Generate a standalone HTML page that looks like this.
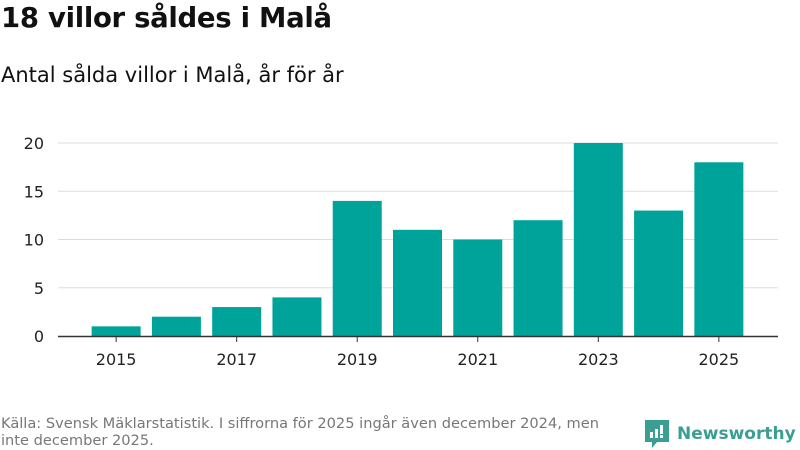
<!DOCTYPE html>
<html><head><meta charset="utf-8">
<style>
body{margin:0;width:800px;height:450px;background:#fff;font-family:"DejaVu Sans","Liberation Sans",sans-serif;overflow:hidden;position:relative;color:#111}
#title{position:absolute;left:1px;top:2px;font-size:27.5px;font-weight:bold;letter-spacing:-0.3px}
#subtitle{position:absolute;left:1px;top:63px;font-size:21px}
#source{position:absolute;left:1px;top:415px;font-size:14.6px;color:#777;line-height:17px;width:628px}
#logo{position:absolute;left:645px;top:420px;display:flex;align-items:center;color:#3a9e93;font-size:17px;font-weight:bold}
svg text{font-family:"DejaVu Sans","Liberation Sans",sans-serif}
</style></head><body>
<div id="title">18 villor såldes i Malå</div>
<div id="subtitle">Antal sålda villor i Malå, år för år</div>
<svg id="chart" width="800" height="450" style="position:absolute;left:0;top:0"></svg>
<div id="source">Källa: Svensk Mäklarstatistik. I siffrorna för 2025 ingår även december 2024, men inte december 2025.</div>
<div id="logo">
<svg width="24" height="28" viewBox="0 0 24 28"><path d="M0 0H24V22H12L7 28V22H0Z" fill="#3a9e93"/><rect x="5" y="12" width="3" height="6" fill="#fff"/><rect x="10" y="9" width="3" height="9" fill="#fff"/><rect x="15" y="5" width="3" height="9" fill="#fff"/><rect x="15" y="15" width="3" height="3" fill="#fff"/></svg>
<span style="margin-left:8px">Newsworthy</span></div>
<script>
const years=[2015,2016,2017,2018,2019,2020,2021,2022,2023,2024,2025];
const values=[1,2,3,4,14,11,10,12,20,13,18];
const yTicks=[0,5,10,15,20];
const xLabels=[2015,2017,2019,2021,2023,2025];
const svg=document.getElementById('chart');
const NS='http://www.w3.org/2000/svg';
const x0=58,x1=778,b0=86,b1=749,y0=336,yTop=143,yMax=20;
const step=(b1-b0)/years.length;
const bw=49;
function xs(i){return b0+step*(i+0.5);}
function ys(v){return y0-(y0-yTop)*v/yMax;}
function mk(t,a){const e=document.createElementNS(NS,t);for(const k in a)e.setAttribute(k,a[k]);svg.appendChild(e);return e;}
yTicks.forEach(v=>{
  if(v>0){const l=mk('line',{x1:x0,x2:x1,y1:ys(v),y2:ys(v),stroke:'#ddd','stroke-width':1});
  
  }
  const t=mk('text',{x:44,y:ys(v)+6,'text-anchor':'end','font-size':16,fill:'#222'});
  t.textContent=v;
  
  
});
years.forEach((yr,i)=>{
  const r=mk('rect',{x:xs(i)-bw/2,y:ys(values[i]),width:bw,height:y0-ys(values[i]),fill:'#00a399'});
  
  
});
const ax=mk('line',{x1:x0,x2:x1,y1:y0+0.5,y2:y0+0.5,stroke:'#333','stroke-width':1.5});


xLabels.forEach(yr=>{
  const i=years.indexOf(yr);
  const tk=mk('line',{x1:xs(i),x2:xs(i),y1:y0,y2:y0+6,stroke:'#333'});
  
  
  const t=mk('text',{x:xs(i),y:365,'text-anchor':'middle','font-size':16,fill:'#222'});
  t.textContent=yr;
  
  
});
</script>
</body></html>
